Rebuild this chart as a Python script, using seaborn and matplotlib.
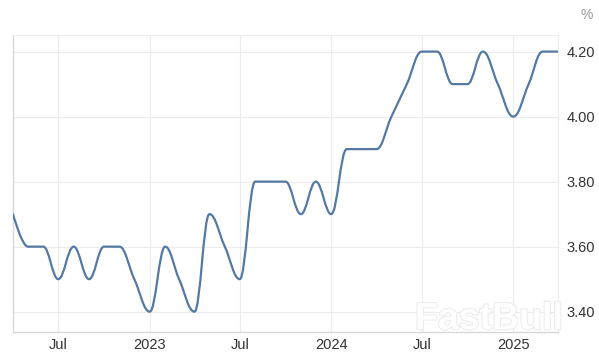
import numpy as np
import pandas as pd
import matplotlib
matplotlib.use("Agg")
import matplotlib.pyplot as plt
import matplotlib.dates as mdates
from matplotlib.path import Path
from matplotlib.patches import PathPatch
import matplotlib.patheffects as pe
import seaborn as sns

# ---- data (monthly, Apr 2022 - Apr 2025) ----
months = pd.date_range("2022-04-01", "2025-04-01", freq="MS")
values = [3.7, 3.6, 3.6, 3.5, 3.6, 3.5, 3.6, 3.6, 3.5,
          3.4, 3.6, 3.5, 3.4, 3.7, 3.6, 3.5, 3.8, 3.8, 3.8, 3.7, 3.8,
          3.7, 3.9, 3.9, 3.9, 4.0, 4.1, 4.2, 4.2, 4.1, 4.1, 4.2, 4.1,
          4.0, 4.1, 4.2, 4.2]
y_ticks = [3.40, 3.60, 3.80, 4.00, 4.20]
x_tick_dates = ["2022-07-01", "2023-01-01", "2023-07-01", "2024-01-01", "2024-07-01", "2025-01-01"]
x_tick_labels = ["Jul", "2023", "Jul", "2024", "Jul", "2025"]
unit_label = "%"
watermark = "FastBull"

df = pd.DataFrame({"date": months, "value": values})

sns.set_theme(style="white")
plt.rcParams["font.family"] = ["Liberation Sans", "DejaVu Sans"]

W, H = 599, 360
fig = plt.figure(figsize=(W / 100, H / 100), dpi=100)
ax = fig.add_axes([13 / W, 1 - 332 / H, (558 - 13) / W, (332 - 35) / H])

line_color = "#5479a2"

# seaborn line for the data (thin, underneath the smoothed rendering)
sns.lineplot(data=df, x="date", y="value", ax=ax, color=line_color,
             linewidth=0, legend=False)

# smooth spline rendering (Highcharts-style bezier through data points)
xs = mdates.date2num(df["date"].to_numpy())
ys = np.asarray(values, dtype=float)
n = len(xs)
sm = 1.5
den = sm + 1
left_c = [None] * n
right_c = [None] * n
for i in range(n):
    px, py = xs[i], ys[i]
    if 0 < i < n - 1:
        lx, ly = xs[i - 1], ys[i - 1]
        nx, ny = xs[i + 1], ys[i + 1]
        lcx = (sm * px + lx) / den
        lcy = (sm * py + ly) / den
        rcx = (sm * px + nx) / den
        rcy = (sm * py + ny) / den
        if rcx != lcx:
            corr = ((rcy - lcy) * (rcx - px)) / (rcx - lcx) + py - rcy
            lcy += corr
            rcy += corr
        if lcy > ly and lcy > py:
            lcy = max(ly, py)
            rcy = 2 * py - lcy
        elif lcy < ly and lcy < py:
            lcy = min(ly, py)
            rcy = 2 * py - lcy
        if rcy > ny and rcy > py:
            rcy = max(ny, py)
            lcy = 2 * py - rcy
        elif rcy < ny and rcy < py:
            rcy = min(ny, py)
            lcy = 2 * py - rcy
        left_c[i] = (lcx, lcy)
        right_c[i] = (rcx, rcy)
    else:
        left_c[i] = (px, py)
        right_c[i] = (px, py)

verts = [(xs[0], ys[0])]
codes = [Path.MOVETO]
for i in range(1, n):
    verts += [right_c[i - 1], left_c[i], (xs[i], ys[i])]
    codes += [Path.CURVE4, Path.CURVE4, Path.CURVE4]
patch = PathPatch(Path(verts, codes), facecolor="none", edgecolor=line_color,
                  linewidth=1.6, capstyle="round", joinstyle="round", zorder=3)
ax.add_patch(patch)

# axes limits
ax.set_xlim(mdates.date2num(pd.Timestamp("2022-04-01")),
            mdates.date2num(pd.Timestamp("2025-04-01")))
ax.set_ylim(3.3375, 4.251)

# ticks
ax.set_xticks(mdates.date2num(pd.to_datetime(x_tick_dates)))
ax.set_xticklabels(x_tick_labels)
ax.yaxis.tick_right()
ax.set_yticks(y_ticks)
ax.set_yticklabels([f"{v:.2f}" for v in y_ticks])
ax.tick_params(axis="both", length=0, labelsize=10.5, colors="#333333")
ax.tick_params(axis="x", pad=4)
ax.tick_params(axis="y", pad=6)
ax.set_xlabel("")
ax.set_ylabel("")

ax.grid(True, color="#ececec", linewidth=0.8)
ax.set_axisbelow(True)
for s in ["top", "right"]:
    ax.spines[s].set_color("#ececec")
    ax.spines[s].set_linewidth(0.8)
for s in ["left", "bottom"]:
    ax.spines[s].set_color("#d8d8d8")
    ax.spines[s].set_linewidth(1.0)

fig.text(587 / W, 1 - 15 / H, unit_label, ha="center", va="center",
         fontsize=10, color="#999999")

t = fig.text(489 / W, 1 - 319 / H, watermark, ha="center", va="center",
             fontsize=27, fontweight="bold", color="white", zorder=10)
t.set_path_effects([pe.withStroke(linewidth=1.5, foreground="#ececec")])

fig.savefig("out.png", dpi=100, facecolor="white")
